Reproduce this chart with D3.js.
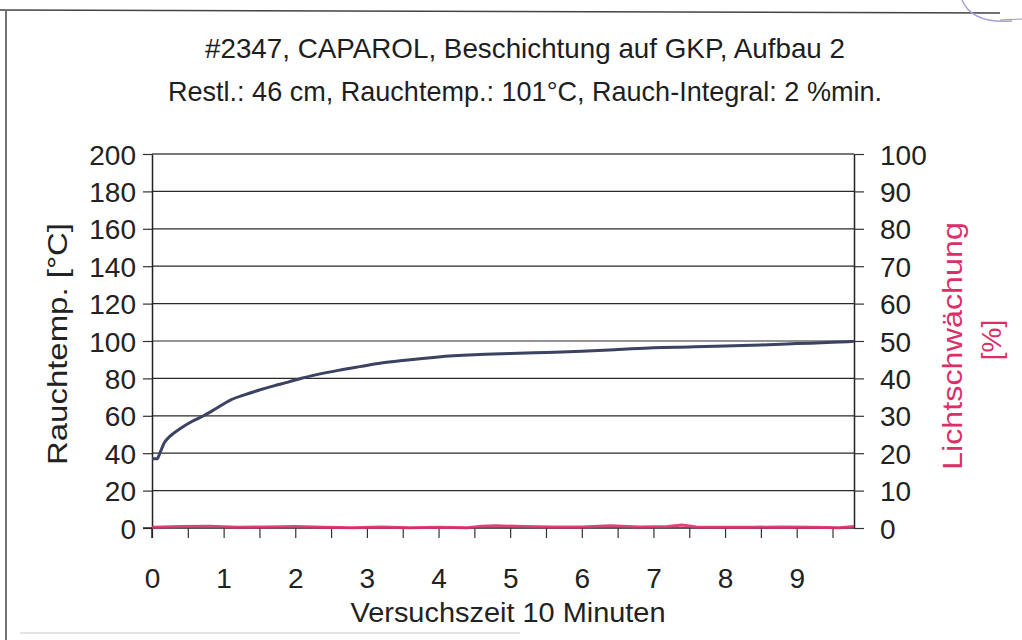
<!DOCTYPE html>
<html>
<head>
<meta charset="utf-8">
<script src="https://cdn.jsdelivr.net/npm/d3@7"></script>
<style>
  html, body { margin: 0; padding: 0; background: #fff; }
  svg { display: block; font-family: "Liberation Sans", Arial, sans-serif; }
</style>
</head>
<body>
<svg id="chart" width="1022" height="640"></svg>
<script>
// ---- data ----
const titleLines = [
  "#2347, CAPAROL, Beschichtung auf GKP, Aufbau 2",
  "Restl.: 46 cm, Rauchtemp.: 101°C, Rauch-Integral: 2 %min."
];
const xTitle = "Versuchszeit 10 Minuten";
const yLeftTitle = "Rauchtemp. [°C]";
const yRightTitle = ["Lichtschwächung", "[%]"];

const leftTicks = [0, 20, 40, 60, 80, 100, 120, 140, 160, 180, 200];
const rightTicks = [0, 10, 20, 30, 40, 50, 60, 70, 80, 90, 100];
const xTickMarks = [0, 0.5, 1, 1.5, 2, 2.5, 3, 3.5, 4, 4.5, 5, 5.5, 6, 6.5, 7, 7.5, 8, 8.5, 9, 9.5];
const xTickLabels = [0, 1, 2, 3, 4, 5, 6, 7, 8, 9];

// smoke temperature [°C]
const tempTime = [0, 0.07, 0.12, 0.17, 0.23, 0.3, 0.4, 0.55, 0.72, 0.9, 1.1, 1.3, 1.5, 1.7, 1.9, 2.1, 2.3, 2.6, 2.9, 3.2, 3.5, 4.0, 4.5, 5.0, 5.5, 6.0, 6.5, 7.0, 7.5, 8.0, 8.5, 9.0, 9.5, 9.8];
const tempValues = [37, 37, 41, 45.5, 48.3, 50.6, 53.3, 56.8, 60, 64, 68.5, 71.3, 73.8, 76, 78, 80.2, 82, 84.3, 86.3, 88.2, 89.6, 91.5, 92.6, 93.3, 93.9, 94.5, 95.4, 96.4, 96.8, 97.3, 97.9, 98.6, 99.3, 99.8];

// light obscuration [%]
const lightTime = [0, 0.4, 0.8, 1.2, 1.6, 2.0, 2.4, 2.8, 3.2, 3.6, 4.0, 4.4, 4.6, 4.8, 5.2, 5.6, 6.0, 6.4, 6.8, 7.2, 7.4, 7.6, 8.0, 8.4, 8.8, 9.2, 9.6, 9.8];
const lightValues = [0.2, 0.4, 0.5, 0.2, 0.3, 0.4, 0.2, 0.1, 0.3, 0.1, 0.2, 0.1, 0.5, 0.6, 0.4, 0.3, 0.3, 0.6, 0.3, 0.4, 0.8, 0.3, 0.2, 0.2, 0.3, 0.2, 0.1, 0.4];

// ---- chart ----
const svg = d3.select("#chart");
const plot = { left: 152, right: 854, top: 154, bottom: 528 };

const x = d3.scaleLinear().domain([0, 9.8]).range([plot.left, plot.right]);
const yL = d3.scaleLinear().domain([0, 200]).range([plot.bottom, plot.top]);
const yR = d3.scaleLinear().domain([0, 100]).range([plot.bottom, plot.top]);

const red = "#dc2f68";
const dark = "#3b4262";
const font = "Liberation Sans, Arial, sans-serif";

// outer frame
svg.append("path")
  .attr("d", "M0,10 L1000,13 M6,10 L6,640")
  .attr("stroke", "#444").attr("stroke-width", 1.5).attr("fill", "none");
svg.append("path")
  .attr("d", "M20,633 L520,633")
  .attr("stroke", "#ddd").attr("stroke-width", 1.5).attr("fill", "none");
// stamp remnant
svg.append("path")
  .attr("d", "M962,0 Q972,24 1012,21")
  .attr("stroke", "#a7a3d6").attr("stroke-width", 1.5).attr("fill", "none");
svg.append("path")
  .attr("d", "M1000,20 L1022,19")
  .attr("stroke", "#9a96cc").attr("stroke-width", 1).attr("fill", "none");

// titles
const titleY = [58, 101];
const titleW = [640, 714];
titleLines.forEach((t, i) => {
  svg.append("text")
    .attr("x", 525).attr("y", titleY[i])
    .attr("text-anchor", "middle")
    .attr("font-size", 28)
    .attr("fill", "#1e1e1e")
    .attr("textLength", titleW[i])
    .attr("lengthAdjust", "spacingAndGlyphs")
    .text(t);
});

// gridlines
svg.append("g").selectAll("line").data(leftTicks.filter(d => d > 0)).join("line")
  .attr("x1", plot.left).attr("x2", plot.right)
  .attr("y1", d => yL(d)).attr("y2", d => yL(d))
  .attr("stroke", d => d === 200 ? "#777" : "#2a2a2a")
  .attr("stroke-width", d => d === 200 ? 2 : 1.2);

// left axis
const gL = svg.append("g").attr("transform", `translate(${plot.left},0)`)
  .call(d3.axisLeft(yL).tickValues(leftTicks).tickSize(9).tickSizeOuter(0).tickPadding(7));
gL.select(".domain").attr("stroke", "#222").attr("stroke-width", 1.5);
gL.selectAll(".tick line").attr("stroke", "#333").attr("stroke-width", 1.2);
gL.selectAll(".tick text").attr("font-size", 28).attr("fill", "#222")
  .attr("font-family", font).attr("dy", "0.36em");

// right axis
const gR = svg.append("g").attr("transform", `translate(${plot.right},0)`)
  .call(d3.axisRight(yR).tickValues(rightTicks).tickSize(10).tickSizeOuter(0).tickPadding(16));
gR.select(".domain").attr("stroke", "#222").attr("stroke-width", 1.5);
gR.selectAll(".tick line").attr("stroke", "#333").attr("stroke-width", 1.2);
gR.selectAll(".tick text").attr("font-size", 28).attr("fill", "#222")
  .attr("font-family", font).attr("dy", "0.36em");

// bottom axis (tick marks every half unit, labels on integers)
const gB = svg.append("g").attr("transform", `translate(0,${plot.bottom})`)
  .call(d3.axisBottom(x).tickValues(xTickMarks).tickSize(10).tickSizeOuter(0)
    .tickFormat(d => xTickLabels.includes(d) ? d3.format("d")(d) : ""));
gB.select(".domain").attr("stroke", "#222").attr("stroke-width", 1.5)
  .attr("d", `M${plot.left - 9},0H${plot.right}`);
gB.selectAll(".tick line").attr("stroke", "#333").attr("stroke-width", 1.2);
gB.selectAll(".tick text").attr("font-size", 28).attr("fill", "#222")
  .attr("font-family", font).attr("dy", null).attr("y", 60);

// left axis line extends down to x tick length
svg.append("line").attr("x1", plot.left).attr("x2", plot.left)
  .attr("y1", plot.bottom).attr("y2", plot.bottom + 10)
  .attr("stroke", "#222").attr("stroke-width", 1.5);

// series: light obscuration (right axis)
const lineR = d3.line().x((d, i) => x(lightTime[i])).y(d => yR(d));
svg.append("path").datum(lightValues)
  .attr("d", lineR).attr("fill", "none")
  .attr("stroke", red).attr("stroke-width", 3).attr("opacity", 0.9);

// series: temperature (left axis)
const lineL = d3.line().x((d, i) => x(tempTime[i])).y(d => yL(d)).curve(d3.curveMonotoneX);
svg.append("path").datum(tempValues)
  .attr("d", lineL).attr("fill", "none")
  .attr("stroke", dark).attr("stroke-width", 3);

// axis titles
svg.append("text")
  .attr("transform", "translate(67,344) rotate(-90)")
  .attr("text-anchor", "middle").attr("font-size", 28).attr("fill", "#222")
  .attr("textLength", 242).attr("lengthAdjust", "spacingAndGlyphs")
  .text(yLeftTitle);

svg.append("text")
  .attr("transform", "translate(962,346) rotate(-90)")
  .attr("text-anchor", "middle").attr("font-size", 28).attr("fill", red)
  .attr("textLength", 248).attr("lengthAdjust", "spacingAndGlyphs")
  .text(yRightTitle[0]);
svg.append("text")
  .attr("transform", "translate(1001,340) rotate(-90)")
  .attr("text-anchor", "middle").attr("font-size", 28).attr("fill", red)
  .text(yRightTitle[1]);

svg.append("text")
  .attr("x", 508).attr("y", 622)
  .attr("text-anchor", "middle").attr("font-size", 27).attr("fill", "#222")
  .attr("textLength", 315).attr("lengthAdjust", "spacingAndGlyphs")
  .text(xTitle);
</script>
</body>
</html>
